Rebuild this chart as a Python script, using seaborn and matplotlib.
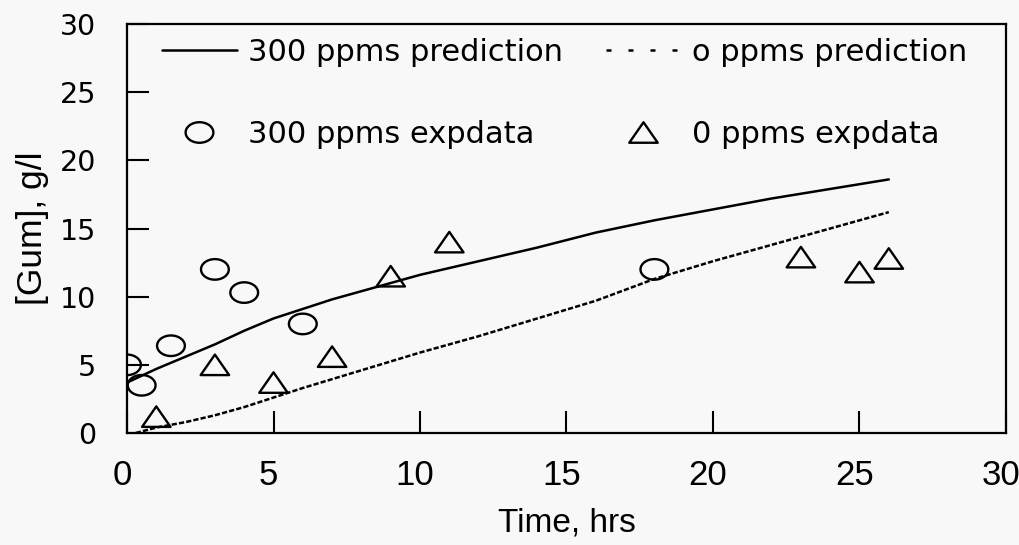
import numpy as np
import pandas as pd
import matplotlib
matplotlib.use("Agg")
import matplotlib.pyplot as plt
import matplotlib.transforms as mtransforms
from matplotlib.path import Path
from matplotlib.lines import Line2D
import seaborn as sns

# ---------------- data ----------------
t_pred_300 = [0.0, 0.5, 1, 2, 3, 4, 5, 6, 7, 8, 10, 12, 14, 16, 18, 20, 22, 24, 26.0]
gum_pred_300 = [3.7, 4.2, 4.7, 5.6, 6.5, 7.5, 8.4, 9.1, 9.8, 10.4, 11.6, 12.6, 13.6, 14.7, 15.6, 16.4, 17.2, 17.9, 18.6]

t_pred_0 = [0.3, 1, 2, 3, 4, 5, 6, 8, 10, 12, 14, 16, 18, 20, 22, 24, 26.0]
gum_pred_0 = [0.0, 0.4, 0.8, 1.3, 1.9, 2.6, 3.3, 4.6, 5.9, 7.1, 8.4, 9.7, 11.3, 12.6, 13.8, 15.0, 16.2]

t_exp_300 = [0.0, 0.5, 1.5, 3, 4, 6, 18]
gum_exp_300 = [5.0, 3.5, 6.4, 12.0, 10.3, 8.0, 12.0]

t_exp_0 = [1, 3, 5, 7, 9, 11, 23, 25, 26]
gum_exp_0 = [1.2, 5.0, 3.7, 5.6, 11.5, 14.0, 12.9, 11.8, 12.8]

labels = ["300 ppms prediction", "300 ppms expdata", "o ppms prediction", "0 ppms expdata"]
x_ticks = [0, 5, 10, 15, 20, 25, 30]
y_ticks = [0, 5, 10, 15, 20, 25, 30]

# ---------------- style ----------------
sns.set_theme(style="white")
plt.rcParams["font.family"] = ["Liberation Sans", "DejaVu Sans"]
plt.rcParams["text.color"] = "black"
plt.rcParams["axes.labelcolor"] = "black"
plt.rcParams["xtick.color"] = "black"
plt.rcParams["ytick.color"] = "black"
bg = "#f8f8f8"

fig = plt.figure(figsize=(10.2, 5.45), dpi=100, facecolor=bg)
ax = fig.add_axes([127 / 1020, 1 - 433 / 545, (1006 - 127) / 1020, (433 - 24) / 545])
ax.set_facecolor(bg)

# custom stretched markers (ellipse, wide triangle)
th = np.linspace(0, 2 * np.pi, 64)
ell_path = Path(np.column_stack([0.5 * np.cos(th), 0.37 * np.sin(th)]), closed=True)
tri_path = Path([(-0.5, -0.36), (0.5, -0.36), (0.0, 0.36), (-0.5, -0.36)], closed=True)

df300 = pd.DataFrame({"t": t_pred_300, "g": gum_pred_300})
df0 = pd.DataFrame({"t": t_pred_0, "g": gum_pred_0})
de300 = pd.DataFrame({"t": t_exp_300, "g": gum_exp_300})
de0 = pd.DataFrame({"t": t_exp_0, "g": gum_exp_0})

sns.lineplot(data=df300, x="t", y="g", ax=ax, color="black", lw=1.8, sort=False)
sns.lineplot(data=df0, x="t", y="g", ax=ax, color="black", lw=1.8, sort=False,
             linestyle=(0, (2.1, 0.85)))
sns.scatterplot(data=de300, x="t", y="g", ax=ax, marker=ell_path, s=400,
                facecolor="none", edgecolor="black", linewidth=1.7)
sns.scatterplot(data=de0, x="t", y="g", ax=ax, marker=tri_path, s=420,
                facecolor="none", edgecolor="black", linewidth=1.7)

ax.set_xlim(0, 30)
ax.set_ylim(0, 30)
ax.set_xticks(x_ticks)
ax.set_yticks(y_ticks)
ax.set_xticklabels([str(v) for v in x_ticks], fontsize=25, family="Liberation Sans")
ax.set_yticklabels([str(v) for v in y_ticks], fontsize=20.5, family="DejaVu Sans")
ax.tick_params(axis="both", direction="in", length=15.5, width=1.5, color="black",
               top=False, right=False, left=True, bottom=True)
ax.tick_params(axis="x", pad=19)
ax.tick_params(axis="y", pad=22)
shift = mtransforms.ScaledTranslation(-5 / 100, 0, fig.dpi_scale_trans)
for lbl in ax.get_xticklabels():
    lbl.set_transform(lbl.get_transform() + shift)
for s in ax.spines.values():
    s.set_visible(True)
    s.set_color("black")
    s.set_linewidth(1.6)

ax.set_xlabel("Time, hrs", fontsize=24, labelpad=11, color="black")
ax.set_ylabel("[Gum], g/l", fontsize=25.5, labelpad=8, color="black")

handles = [
    Line2D([], [], color="black", lw=1.8),
    Line2D([], [], linestyle="none", marker=ell_path, markersize=20,
           mfc="none", mec="black", mew=1.7),
    Line2D([], [], color="black", lw=1.8, linestyle=(0, (2.0, 6.8))),
    Line2D([], [], linestyle="none", marker=tri_path, markersize=20.5,
           mfc="none", mec="black", mew=1.7),
]
leg = ax.legend(handles, labels, ncol=2, frameon=False, loc="upper left",
                bbox_to_anchor=(162 / 1020, 1 - 38 / 545), bbox_transform=fig.transFigure,
                borderaxespad=0, borderpad=0, handlelength=2.45, handletextpad=0.35,
                columnspacing=1.42, labelspacing=1.72,
                prop={"family": "DejaVu Sans", "size": 22})

fig.savefig("out.png", dpi=100, facecolor=bg)
